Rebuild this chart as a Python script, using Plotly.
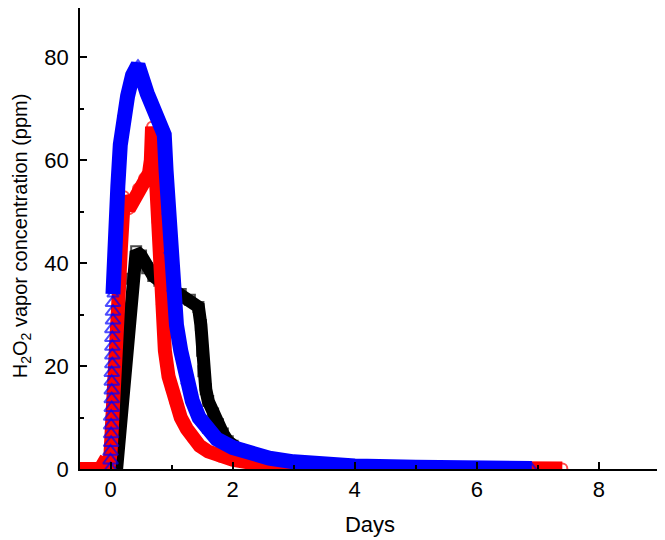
import plotly.graph_objects as go

# ---- data ----
black_days = [0.10, 0.17, 0.24, 0.30, 0.35, 0.42, 0.50, 0.60, 0.70, 0.80, 0.97, 1.15, 1.30, 1.44,
              1.48, 1.50, 1.52, 1.56, 1.60, 1.68, 1.76, 1.84, 1.92, 2.00, 2.10, 2.20, 2.30, 2.45,
              2.60, 2.80, 3.00, 3.30, 3.60, 4.00, 4.50]
black_ppm = [0.0, 10.0, 20.0, 30.0, 37.0, 42.3, 41.5, 39.0, 37.5, 36.6, 35.4, 34.0, 32.9, 31.5,
             28.0, 23.0, 19.0, 15.5, 13.2, 10.8, 8.7, 6.9, 5.4, 4.5, 3.8, 3.3, 2.9, 2.4,
             2.0, 1.6, 1.3, 1.0, 0.8, 0.6, 0.4]

red_days = [-0.50, -0.30, -0.17, -0.12, -0.08, -0.03, 0.00, 0.03, 0.05, 0.09, 0.13, 0.17, 0.20,
            0.22, 0.25, 0.30, 0.36, 0.45, 0.55, 0.63, 0.66, 0.68, 0.72, 0.75, 0.77, 0.80, 0.84,
            0.89, 0.95, 1.00, 1.06, 1.15, 1.25, 1.35, 1.46, 1.60, 1.80, 2.00, 2.30, 2.70, 3.20,
            4.00, 5.00, 6.00, 7.00, 7.40]
red_ppm = [0.0, 0.0, 0.0, 1.0, 1.0, 0.5, 3.0, 8.0, 13.0, 23.0, 33.0, 43.0, 50.0,
           53.0, 52.0, 50.5, 52.0, 54.5, 56.5, 57.5, 60.0, 66.5, 62.0, 55.0, 48.0, 42.0, 32.0,
           23.0, 18.0, 15.5, 13.0, 10.0, 7.8, 6.0, 4.5, 3.4, 2.4, 1.8, 1.2, 0.8, 0.5,
           0.3, 0.2, 0.15, 0.1, 0.1]

blue_days = [0.00, 0.00, 0.00, 0.01, 0.01, 0.01, 0.01, 0.02, 0.02, 0.02, 0.02, 0.02, 0.03, 0.03,
             0.03, 0.03, 0.03, 0.04, 0.04, 0.04, 0.04,
             0.05, 0.08, 0.12, 0.16, 0.21, 0.28, 0.36, 0.45, 0.60, 0.75, 0.88, 0.91, 0.94, 0.97,
             1.02, 1.08, 1.15, 1.25, 1.34, 1.45, 1.60, 1.74, 2.00, 2.28, 2.60, 3.00, 3.50, 4.00,
             5.00, 6.00, 6.90]
blue_ppm = [0.0, 1.7, 3.4, 5.1, 6.8, 8.5, 10.2, 11.9, 13.6, 15.3, 17.0, 18.7, 20.4, 22.1,
            23.8, 25.5, 27.2, 28.9, 30.6, 32.3, 34.0,
            35.5, 45.0, 55.0, 63.0, 69.0, 72.5, 76.5, 78.5, 73.0, 68.5, 65.0, 58.0, 50.0, 42.4,
            35.0, 28.0, 23.0, 17.0, 13.2, 10.0, 7.5, 5.8, 4.2, 2.9, 2.1, 1.4, 0.9, 0.6,
            0.35, 0.2, 0.1]
blue_ramp_points = 20  # open triangles drawn without the band

x_ticks = [0, 2, 4, 6, 8]
y_ticks = [0, 20, 40, 60, 80]

FONT = "Liberation Sans, Arial, Helvetica, sans-serif"

fig = go.Figure()

series = [
    (black_days, black_ppm, "black", "square-open", 0, 13),
    (red_days, red_ppm, "#ff0000", "circle-open", 0, 14),
    (blue_days, blue_ppm, "#0000ff", "triangle-up-open", blue_ramp_points, 15),
]
for xs, ys, col, sym, start, band in series:
    fig.add_trace(go.Scatter(x=xs[start:], y=ys[start:], mode="lines",
                             line=dict(color=col, width=band),
                             hoverinfo="skip", showlegend=False))
    sizes = [13 if i < start else 10 for i in range(len(xs))]
    fig.add_trace(go.Scatter(x=xs, y=ys, mode="markers",
                             marker=dict(symbol=sym, size=sizes, color=col,
                                         line=dict(color=col, width=2)),
                             showlegend=False))

axis_common = dict(showline=True, linecolor="black", linewidth=1.5,
                   showgrid=False, zeroline=False, ticks="inside", ticklen=7,
                   tickwidth=1.5, tickcolor="black",
                   tickfont=dict(family=FONT, size=22, color="black"))

fig.update_xaxes(range=[-0.5, 9], tickvals=x_ticks,
                 minor=dict(dtick=1, tick0=0, ticks="inside", ticklen=4,
                            tickwidth=1.5, tickcolor="black"),
                 title=dict(text="Days", font=dict(family=FONT, size=22, color="black"),
                            standoff=15),
                 **axis_common)
fig.update_yaxes(range=[0, 89.6], tickvals=y_ticks, ticklabelstandoff=5,
                 minor=dict(dtick=10, tick0=0, ticks="inside", ticklen=4,
                            tickwidth=1.5, tickcolor="black"),
                 **axis_common)

fig.add_annotation(text="H<sub>2</sub>O<sub>2</sub> vapor concentration (ppm)",
                   xref="paper", yref="paper", x=0, y=0.505, xshift=-59,
                   xanchor="center", yanchor="middle", textangle=-90, showarrow=False,
                   font=dict(family=FONT, size=20, color="black"))

# page is rendered with an 8px body margin, margins compensate for it
fig.update_layout(width=665, height=540,
                  margin=dict(l=72, r=13, t=0, b=79),
                  plot_bgcolor="white", paper_bgcolor="white")

fig.write_html("out.html")
